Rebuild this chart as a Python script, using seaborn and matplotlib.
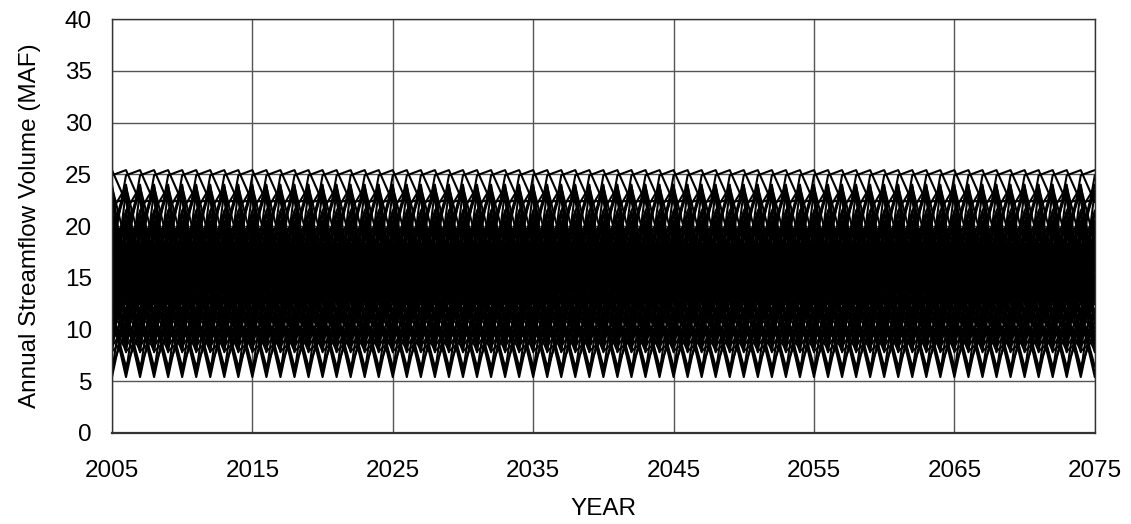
import numpy as np
import pandas as pd
import matplotlib
matplotlib.use("Agg")
import matplotlib.pyplot as plt
import seaborn as sns

# historical annual streamflow (MAF), 1906-2004, resampled as index-sequential traces
hist_years = list(range(1906, 2005))
hist_flow = [
    19.1, 23.4, 12.6, 23.4, 13.2, 16.1, 20.5, 14.9, 21.2, 14.0,
    19.2, 24.0, 14.3, 12.7, 21.5, 23.8, 18.3, 18.3, 14.1, 13.6,
    15.9, 18.0, 17.3, 21.4, 14.9, 7.8, 17.2, 11.4, 5.4, 11.8,
    13.8, 13.7, 17.5, 11.1, 8.6, 18.9, 20.4, 13.0, 14.1, 13.0,
    10.1, 15.3, 15.4, 16.8, 12.4, 11.6, 20.3, 11.0, 7.9, 9.1,
    10.7, 20.1, 16.0, 8.8, 11.7, 9.5, 17.3, 8.4, 10.3, 19.5,
    10.5, 11.7, 14.4, 14.6, 14.6, 15.2, 12.6, 19.5, 13.6, 16.6,
    11.6, 5.8, 15.3, 17.9, 17.5, 9.0, 17.2, 24.9, 25.4, 22.3,
    22.5, 14.4, 11.2, 10.1, 9.3, 11.3, 11.9, 18.1, 11.3, 17.1,
    15.1, 19.4, 16.6, 15.6, 11.0, 11.5, 6.4, 9.9, 9.8,
]
sim_years = list(range(2005, 2076))

y_ticks = [0, 5, 10, 15, 20, 25, 30, 35, 40]
x_ticks = [2005, 2015, 2025, 2035, 2045, 2055, 2065, 2075]

# one trace per starting year of the record, wrapping around the end
n_hist = len(hist_flow)
rows = []
for start in range(n_hist):
    for i, yr in enumerate(sim_years):
        rows.append((start, yr, hist_flow[(start + i) % n_hist]))
df = pd.DataFrame(rows, columns=["trace", "year", "flow"])

sns.set_style("white")
plt.rcParams["font.family"] = ["Liberation Sans", "DejaVu Sans"]

fig = plt.figure(figsize=(11.31, 5.24), dpi=100)
ax = fig.add_axes([0.099, 0.1737, 0.869, 0.790])

sns.lineplot(data=df, x="year", y="flow", units="trace", estimator=None,
             color="black", linewidth=1.5, ax=ax, legend=False)

ax.set_xlim(2005, 2075)
ax.set_ylim(0, 40)
ax.set_xticks(x_ticks)
ax.set_yticks(y_ticks)
ax.grid(True, color="#555555", linewidth=1.0)
ax.set_axisbelow(True)
for s in ax.spines.values():
    s.set_visible(True)
    s.set_color("#333333")
    s.set_linewidth(1.0)
ax.spines["bottom"].set_linewidth(1.6)
ax.tick_params(axis="both", direction="out", length=5.8, width=1.0,
               color="#555555", labelsize=17.5, labelcolor="black")
ax.tick_params(axis="x", pad=14)
ax.tick_params(axis="y", pad=8.5)
ax.set_xlabel("YEAR", fontsize=17.5, labelpad=11, color="black")
ax.set_ylabel("Annual Streamflow Volume (MAF)", fontsize=17.5, labelpad=17,
              color="black")

fig.savefig("out.png", dpi=100, facecolor="white")
